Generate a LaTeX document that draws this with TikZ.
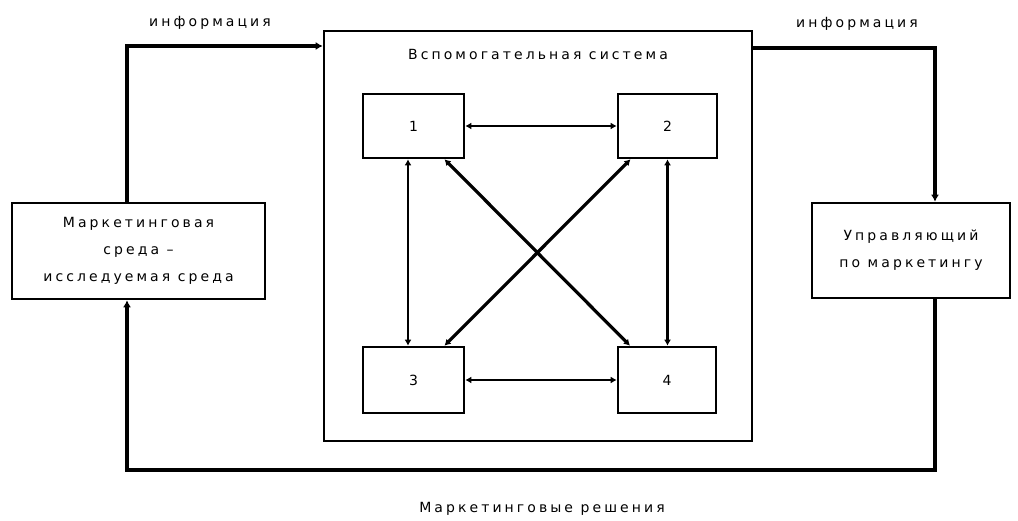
\documentclass[tikz,border=0pt]{standalone}
\usepackage{fontspec}
\setmainfont{DejaVu Sans}[LetterSpace=22]
\usetikzlibrary{arrows.meta}
\begin{document}
\begin{tikzpicture}[x=1pt,y=-1pt,
  box/.style={draw=black,line width=2.6pt,fill=white,inner sep=0pt,align=center},
  lbl/.style={font=\fontsize{14}{27}\selectfont,inner sep=0pt},
  tip/.style={{Latex[length=6pt,width=7pt]}-{Latex[length=6pt,width=7pt]}},
  thin/.style={line width=2pt},
  thick/.style={line width=3.2pt},
  flow/.style={line width=3.2pt,-{Latex[length=7pt,width=8pt]}}
]
\useasboundingbox (0,0) rectangle (1018,521);

% auxiliary system and its four units
\node[box,minimum width=428pt,minimum height=410pt] (O) at (538,236) {};
\node[lbl] (title) at (538,54) {Вспомогательная система};
\node[box,minimum width=101pt,minimum height=64pt,lbl] (B1) at (413.5,126) {1};
\node[box,minimum width=99pt,minimum height=64pt,lbl] (B2) at (667.5,126) {2};
\node[box,minimum width=101pt,minimum height=66pt,lbl] (B3) at (413.5,380) {3};
\node[box,minimum width=98pt,minimum height=66pt,lbl] (B4) at (667,380) {4};

% outer blocks
\node[box,minimum width=253pt,minimum height=96pt,lbl] (L) at (138.5,251)
  {Маркетинговая\\среда –\\исследуемая среда};
\node[box,minimum width=198pt,minimum height=95pt,lbl] (R) at (911,250.5)
  {Управляющий\\по маркетингу};

% labels
\node[lbl] (i1) at (210,23) {информация};
\node[lbl] (i2) at (857,24) {информация};
\node[lbl] (dec) at (542,509) {Маркетинговые решения};

% routing points
\coordinate (c1) at (127,46);
\coordinate (c2) at (935,48);
\coordinate (c3) at (935,470);
\coordinate (c4) at (127,470);

% information flows
\draw[flow] (L.north -| c1) -- (c1) -- (O.west |- c1);
\draw[flow] (O.east |- c2) -- (c2) -- (R.north -| c2);
\draw[flow] (R.south -| c3) -- (c3) -- (c4) -- (L.south -| c4);

% links between units
\draw[thin,tip] (B1.east) -- (B2.west);
\draw[thin,tip] (B3.east) -- (B4.west);
\draw[thin,tip] ([xshift=-5.5pt]B1.south) -- ([xshift=-5.5pt]B3.north);
\draw[thick,tip] (B2.south) -- ([xshift=0.5pt]B4.north);
\draw[thick,tip] ([xshift=31pt]B1.south) -- ([xshift=-37pt]B4.north);
\draw[thick,tip] ([xshift=-37pt]B2.south) -- ([xshift=31pt]B3.north);
\end{tikzpicture}
\end{document}
